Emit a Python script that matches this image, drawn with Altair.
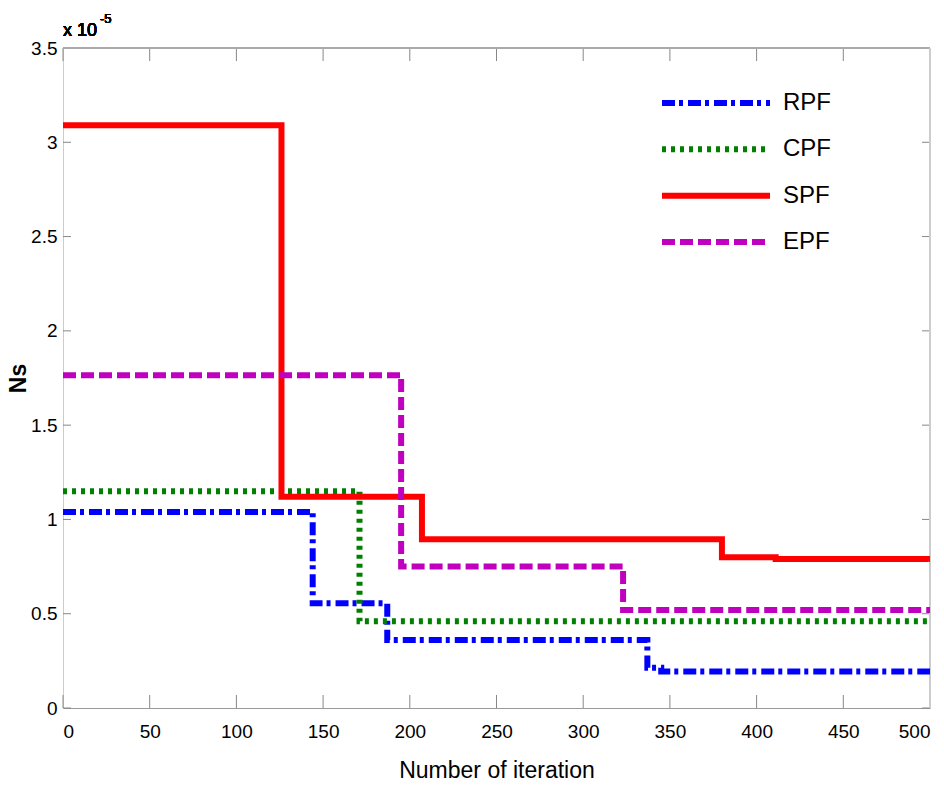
import altair as alt
import pandas as pd

# Step-wise Ns values (in units of 1e-5) for each filter
series_names = ["RPF", "CPF", "SPF", "EPF"]
series_colors = ["#0000FF", "#008000", "#FF0000", "#BF00BF"]
series_dashes = [[13, 4, 4, 5], [4, 5], [1, 0], [13, 5]]

rpf_iter = [0, 144, 187, 337, 345, 500]
rpf_ns = [1.04, 0.555, 0.36, 0.213, 0.193, 0.193]

cpf_iter = [0, 171, 500]
cpf_ns = [1.15, 0.46, 0.46]

spf_iter = [0, 126, 207, 380, 411, 500]
spf_ns = [3.09, 1.12, 0.895, 0.80, 0.79, 0.79]

epf_iter = [0, 195, 323, 500]
epf_ns = [1.765, 0.75, 0.52, 0.52]

x_ticks = list(range(0, 501, 50))
y_ticks = [0, 0.5, 1, 1.5, 2, 2.5, 3, 3.5]

rows = []
for name, xs, ys in [("RPF", rpf_iter, rpf_ns), ("CPF", cpf_iter, cpf_ns),
                     ("SPF", spf_iter, spf_ns), ("EPF", epf_iter, epf_ns)]:
    for i, (xv, yv) in enumerate(zip(xs, ys)):
        rows.append({"series": name, "iter": xv, "ns": yv, "order": i})
df = pd.DataFrame(rows)

FONT = "Liberation Sans"
W, H = 867, 660

x_scale = alt.Scale(domain=[0, 500], nice=False)
y_scale = alt.Scale(domain=[0, 3.5], nice=False)
color_scale = alt.Scale(domain=series_names, range=series_colors)
dash_scale = alt.Scale(domain=series_names, range=series_dashes)

lines = alt.Chart(df).mark_line(interpolate="step-after", strokeWidth=6, clip=True).encode(
    x=alt.X("iter:Q", scale=x_scale,
            axis=alt.Axis(values=x_ticks, title="Number of iteration", grid=False,
                          tickSize=0, labelPadding=14, labelBaseline="top",
                          domainColor="#999999",
                          titleFontSize=23, titleFont=FONT, titleFontWeight="normal",
                          titleY=69, titleBaseline="alphabetic",
                          labelFontSize=19, labelFont=FONT,
                          labelColor="#000000", titleColor="#000000")),
    y=alt.Y("ns:Q", scale=y_scale,
            axis=alt.Axis(values=y_ticks, format="~g", title="Ns", grid=False, tickSize=0,
                          labelPadding=6, domainColor="#cccccc",
                          titleFontSize=23, titleFont=FONT,
                          titleFontWeight="bold", titleX=-45, titleY=H / 2,
                          titleAngle=270, titleAlign="center", titleBaseline="middle",
                          labelFontSize=19, labelFont=FONT, labelColor="#000000",
                          titleColor="#000000")),
    color=alt.Color("series:N", scale=color_scale, legend=None),
    strokeDash=alt.StrokeDash("series:N", scale=dash_scale, legend=None),
    detail="series:N",
    order="order:Q",
)

# Legend drawn as its own small layer: one sample line and label per series
leg = pd.DataFrame({"series": series_names, "row": list(range(len(series_names)))})
leg_y = alt.Y("row:Q", scale=alt.Scale(domain=[0, 3], range=[55, 194]), axis=None)
legend_lines = alt.Chart(leg).mark_rule(strokeWidth=6).encode(
    x=alt.value(599), x2=alt.value(707), y=leg_y,
    color=alt.Color("series:N", scale=color_scale, legend=None),
    strokeDash=alt.StrokeDash("series:N", scale=dash_scale, legend=None),
)
legend_text = alt.Chart(leg).mark_text(font=FONT, fontSize=24, align="left",
                                       baseline="middle", color="#000000").encode(
    x=alt.value(720), y=leg_y, text="series:N")
legend_layer = alt.layer(legend_lines, legend_text)

# Inward tick marks on all four sides
xt = pd.DataFrame({"t": x_ticks})
yt = pd.DataFrame({"t": y_ticks})
tick_color = "#888888"
bottom_ticks = alt.Chart(xt).mark_rule(color=tick_color, strokeWidth=1).encode(
    x=alt.X("t:Q", scale=x_scale), y=alt.value(H), y2=alt.value(H - 13))
top_ticks = alt.Chart(xt).mark_rule(color=tick_color, strokeWidth=1).encode(
    x=alt.X("t:Q", scale=x_scale), y=alt.value(0), y2=alt.value(13))
left_ticks = alt.Chart(yt).mark_rule(color=tick_color, strokeWidth=1).encode(
    y=alt.Y("t:Q", scale=y_scale), x=alt.value(0), x2=alt.value(8))
right_ticks = alt.Chart(yt).mark_rule(color=tick_color, strokeWidth=1).encode(
    y=alt.Y("t:Q", scale=y_scale), x=alt.value(W), x2=alt.value(W - 8))

# Frame on top and right
top_edge = alt.Chart(xt).mark_rule(color="#aaaaaa", strokeWidth=1.5).encode(
    x=alt.value(0), x2=alt.value(W), y=alt.value(0))
right_edge = alt.Chart(xt).mark_rule(color="#cccccc", strokeWidth=1.5).encode(
    x=alt.value(W), y=alt.value(0), y2=alt.value(H))

# Exponent label above the y axis
exp_base = alt.Chart(xt).mark_text(font=FONT, fontSize=18, align="left",
                                   baseline="alphabetic", color="#000000").encode(
    x=alt.value(0), y=alt.value(-12), text=alt.value("x 10"))
exp_pow = alt.Chart(xt).mark_text(font=FONT, fontSize=13, align="left",
                                  baseline="alphabetic", color="#000000").encode(
    x=alt.value(37), y=alt.value(-25), text=alt.value("-5"))

main = alt.layer(
    bottom_ticks, top_ticks, left_ticks, right_ticks, top_edge, right_edge,
    lines, exp_base, exp_pow
)

chart = alt.layer(main, legend_layer).resolve_scale(y="independent").properties(
    width=W, height=H,
    autosize=alt.AutoSizeParams(type="none"),
    padding={"left": 63, "top": 48, "right": 14, "bottom": 78},
).configure_view(stroke=None).configure(background="#ffffff")

chart.save("out.html", embed_options={"renderer": "svg", "actions": False})
